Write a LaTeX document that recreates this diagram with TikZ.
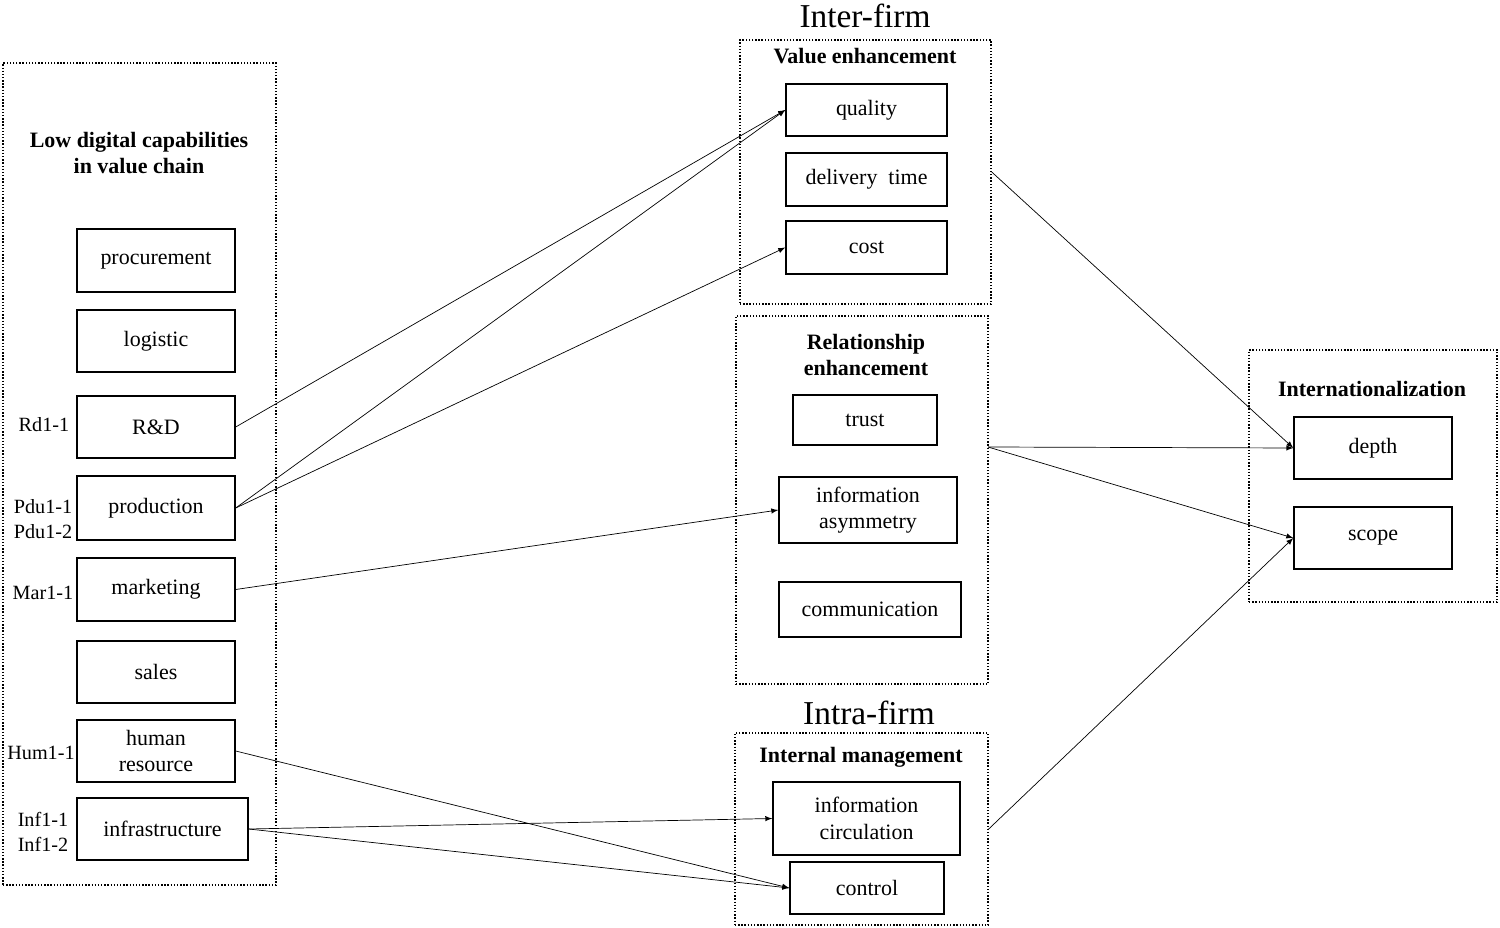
\documentclass[tikz,border=0pt]{standalone}
\usepackage{fontspec}
\setmainfont{Liberation Serif}
\usetikzlibrary{positioning}
\tikzset{
	act/.style={draw, rectangle, thick, inner sep=1pt, align=center, font=\fontsize{12.5}{15}\selectfont},
	group/.style={draw, rectangle, densely dotted, thick},
	head/.style={align=center, font=\fontsize{12.5}{15}\selectfont\bfseries},
	big/.style={font=\fontsize{19}{22}\selectfont},
	code/.style={font=\fontsize{11.5}{14}\selectfont, align=center},
}
\begin{document}
\begin{tikzpicture}[x=0.02cm, y=-0.02cm]
	\useasboundingbox (0,0) rectangle (1500,928);
	
	% value chain
	\node (vc) [group, minimum width=273*0.02cm, minimum height=822*0.02cm] at (139.5,474) {};
	\node (vct) [head] at (139,153) {Low digital capabilities\\in value chain};
	\node (proc) [act, minimum width=158*0.02cm, minimum height=63*0.02cm] at (156,260.5) {procurement};
	\node (logi) [act, minimum width=158*0.02cm, minimum height=62*0.02cm] at (156,341) {logistic};
	\node (rd) [act, minimum width=158*0.02cm, minimum height=62*0.02cm] at (156,427) {R\&D};
	\node (prod) [act, minimum width=158*0.02cm, minimum height=64*0.02cm] at (156,508) {production};
	\node (mark) [act, minimum width=158*0.02cm, minimum height=63*0.02cm] at (156,589.5) {marketing};
	\node (sale) [act, minimum width=158*0.02cm, minimum height=62*0.02cm] at (156,672) {sales};
	\node (hum) [act, minimum width=158*0.02cm, minimum height=62*0.02cm] at (156,751) {human\\resource};
	\node (infra) [act, minimum width=171*0.02cm, minimum height=62*0.02cm] at (162.5,829) {infrastructure};
	
	\node (crd) [code] at (44,425) {Rd1-1};
	\node (cpdu) [code] at (43,519) {Pdu1-1\\Pdu1-2};
	\node (cmar) [code] at (43,593) {Mar1-1};
	\node (chum) [code] at (41,753) {Hum1-1};
	\node (cinf) [code] at (43,832) {Inf1-1\\Inf1-2};
	
	% inter-firm
	\node (inter) [big] at (865,16) {Inter-firm};
	\node (val) [group, minimum width=251*0.02cm, minimum height=264*0.02cm] at (865.5,172) {};
	\node (valt) [head] at (865,56) {Value enhancement};
	\node (qual) [act, minimum width=161*0.02cm, minimum height=52*0.02cm] at (866.5,110) {quality};
	\node (deli) [act, minimum width=161*0.02cm, minimum height=53*0.02cm] at (866.5,179.5) {delivery\ \ time};
	\node (cost) [act, minimum width=161*0.02cm, minimum height=53*0.02cm] at (866.5,247.5) {cost};
	
	\node (rel) [group, minimum width=252*0.02cm, minimum height=368*0.02cm] at (862,500) {};
	\node (relt) [head] at (866,355) {Relationship\\enhancement};
	\node (trust) [act, minimum width=144*0.02cm, minimum height=50*0.02cm] at (865,420) {trust};
	\node (asym) [act, minimum width=178*0.02cm, minimum height=66*0.02cm] at (868,510) {information\\asymmetry};
	\node (comm) [act, minimum width=182*0.02cm, minimum height=55*0.02cm] at (870,609.5) {communication};
	
	% intra-firm
	\node (intra) [big] at (869,713) {Intra-firm};
	\node (intm) [group, minimum width=253*0.02cm, minimum height=192*0.02cm] at (861.5,829) {};
	\node (intmt) [head] at (861,757) {Internal management};
	\node (circ) [act, minimum width=187*0.02cm, minimum height=73*0.02cm] at (866.5,818.5) {information\\circulation};
	\node (ctrl) [act, minimum width=154*0.02cm, minimum height=52*0.02cm] at (867,888) {control};
	
	% internationalization
	\node (intl) [group, minimum width=248*0.02cm, minimum height=252*0.02cm] at (1373,476) {};
	\node (intlt) [head] at (1372,389) {Internationalization};
	\node (depth) [act, minimum width=158*0.02cm, minimum height=62*0.02cm] at (1373,448) {depth};
	\node (scope) [act, minimum width=158*0.02cm, minimum height=62*0.02cm] at (1373,538) {scope};
	
	\coordinate (relo) at (988,447);
	
	\begin{scope}[black, ->, >=latex]
		\draw (rd.east) -- (qual.west);
		\draw (prod.east) -- (qual.west);
		\draw (prod.east) -- (cost.west);
		\draw (mark.east) -- (asym.west);
		\draw (hum.east) -- (ctrl.west);
		\draw (infra.east) -- (circ.west);
		\draw (infra.east) -- (ctrl.west);
		
		\draw (val.east) -- (depth.west);
		\draw (relo) -- (depth.west);
		\draw (relo) -- (scope.west);
		\draw (intm.east) -- (scope.west);
	\end{scope}
	
\end{tikzpicture}
\end{document}
